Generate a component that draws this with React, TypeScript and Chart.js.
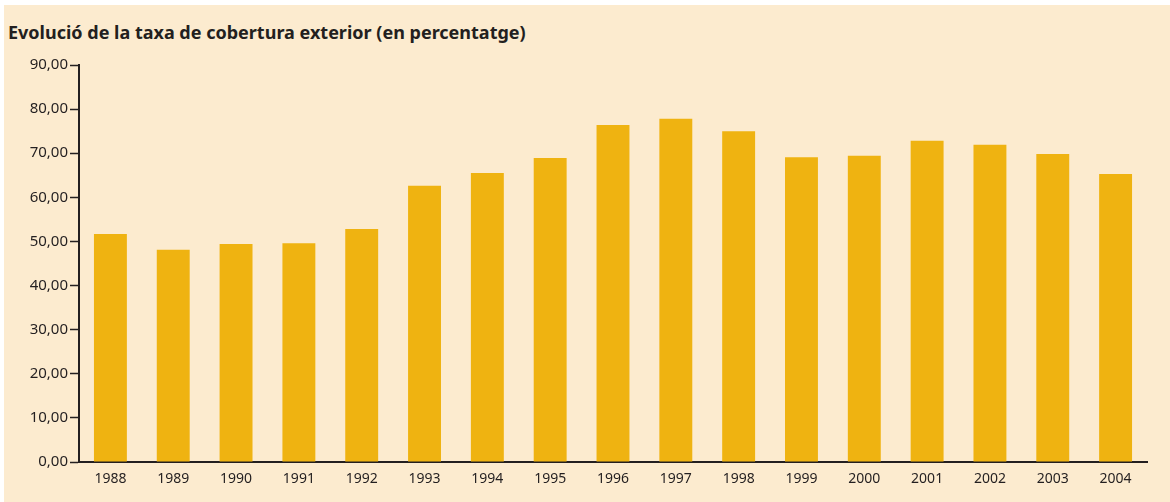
import React, { useEffect, useRef } from "react";
import { Chart, registerables } from "chart.js";

Chart.register(...registerables);

const years = ["1988","1989","1990","1991","1992","1993","1994","1995","1996","1997","1998","1999","2000","2001","2002","2003","2004"];
const coverage = [51.7, 48.1, 49.4, 49.6, 52.8, 62.6, 65.5, 68.9, 76.4, 77.8, 75.0, 69.1, 69.4, 72.8, 71.9, 69.8, 65.3];
const yTickMin = 0;
const yTickMax = 90;
const yTickStep = 10;
const title = "Evolució de la taxa de cobertura exterior (en percentatge)";

const BG = "#FCEBCF";
const BAR = "#EFB311";
const INK = "#231F20";
const FONT = "'Noto Sans', 'Open Sans', sans-serif";

export default function App() {
  const ref = useRef<HTMLCanvasElement | null>(null);
  useEffect(() => {
    if (!ref.current) return;
    const chart = new Chart(ref.current, {
      type: "bar",
      data: {
        labels: years,
        datasets: [{ data: coverage, backgroundColor: BAR, borderWidth: 0, barPercentage: 0.524, categoryPercentage: 1 }],
      },
      options: {
        animation: false,
        responsive: false,
        maintainAspectRatio: false,
        layout: { padding: { top: 60, right: 23, bottom: 0, left: 0 } },
        plugins: { legend: { display: false }, tooltip: { enabled: false }, title: { display: false } },
        scales: {
          x: {
            grid: { display: true, drawOnChartArea: false, drawTicks: false, color: "rgba(0,0,0,0)" },
            border: { display: true, color: INK, width: 2 },
            ticks: { color: INK, font: { family: FONT, size: 14 }, padding: 9, maxRotation: 0 },
            afterFit: (s: any) => { s.height = 40; },
          },
          y: {
            min: yTickMin,
            max: yTickMax,
            grid: { display: true, drawOnChartArea: false, drawTicks: true, tickLength: 9, tickWidth: 1.5, tickColor: INK } as any,
            border: { display: true, color: INK, width: 2 },
            ticks: {
              stepSize: yTickStep,
              color: INK,
              padding: 2,
              font: { family: FONT, size: 15 },
              callback: (v: any) => Number(v).toFixed(2).replace(".", ","),
            },
            afterFit: (s: any) => { s.width = 75; },
          },
        },
      },
    });
    return () => chart.destroy();
  }, []);
  return (
    <div style={{ position: "fixed", left: 4, top: 5, width: 1166, height: 497, background: BG }}>
      <div style={{ position: "absolute", left: 4, top: 15, fontFamily: FONT, fontWeight: 700, fontSize: 18, color: INK, whiteSpace: "nowrap" }}>{title}</div>
      <canvas ref={ref} width={1166} height={497} style={{ position: "absolute", left: 0, top: 0 }} />
    </div>
  );
}
